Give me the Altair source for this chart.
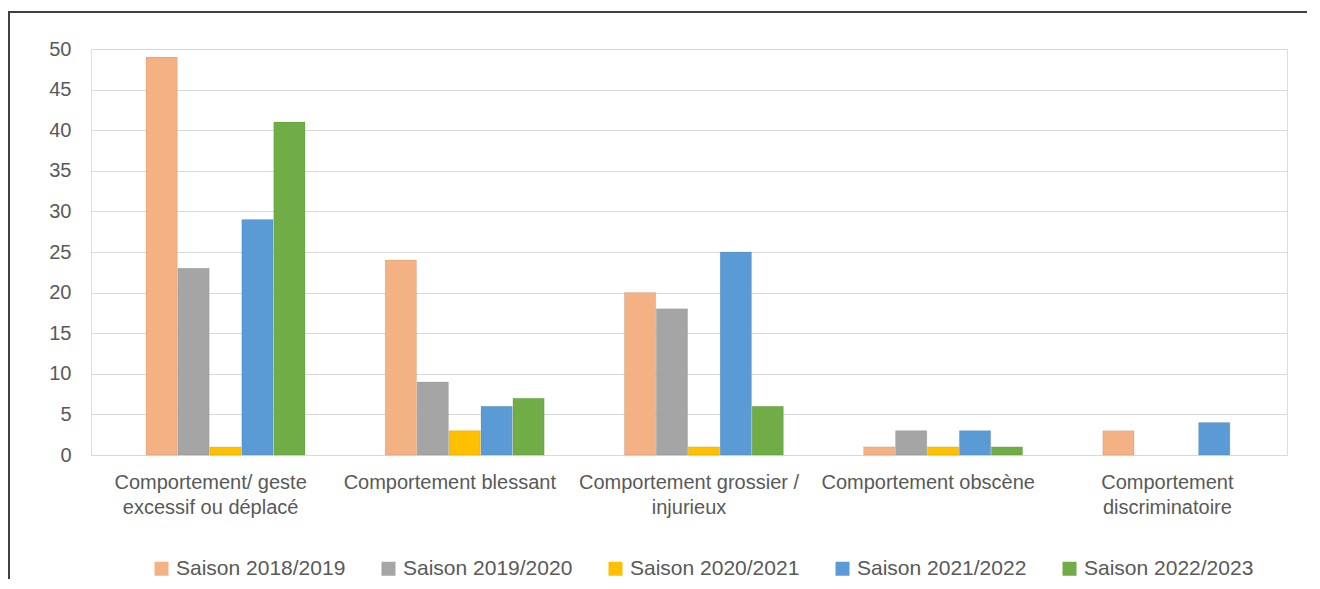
import altair as alt
import pandas as pd

categories = [
    "Comportement/ geste|excessif ou déplacé",
    "Comportement blessant",
    "Comportement grossier /|injurieux",
    "Comportement obscène",
    "Comportement|discriminatoire",
]
series = ["Saison 2018/2019", "Saison 2019/2020", "Saison 2020/2021",
          "Saison 2021/2022", "Saison 2022/2023"]
s2018 = [49, 24, 20, 1, 3]
s2019 = [23, 9, 18, 3, 0]
s2020 = [1, 3, 1, 1, 0]
s2021 = [29, 6, 25, 3, 4]
s2022 = [41, 7, 6, 1, 0]
colors = ["#F4B183", "#A5A5A5", "#FFC000", "#5B9BD5", "#70AD47"]
y_ticks = list(range(0, 51, 5))

rows = []
for s, vals in zip(series, [s2018, s2019, s2020, s2021, s2022]):
    for c, v in zip(categories, vals):
        rows.append({"cat": c, "series": s, "value": v})
df = pd.DataFrame(rows)

FONT = "Liberation Sans"
TXT = "#595959"

bars = alt.Chart(df).transform_filter("datum.value > 0").mark_bar(
    stroke="#00000022", strokeWidth=0.6
).encode(
    x=alt.X("cat:N", sort=categories, title=None,
            scale=alt.Scale(paddingInner=0, paddingOuter=0),
            axis=alt.Axis(labelExpr="split(datum.label, '|')", labelAngle=0,
                          labelFontSize=20, labelColor=TXT, labelFont=FONT,
                          labelLineHeight=25, labelPadding=17, labelBaseline="top",
                          domain=False, ticks=False, labelLimit=300)),
    xOffset=alt.XOffset("series:N", sort=series,
                        scale=alt.Scale(range=[55, 214], paddingInner=0.02, paddingOuter=0)),
    y=alt.Y("value:Q", title=None,
            scale=alt.Scale(domain=[0, 50], nice=False),
            axis=alt.Axis(values=y_ticks, grid=True, gridColor="#D9D9D9", gridWidth=1.2,
                          domain=False, ticks=False, labelPadding=20,
                          labelFontSize=20, labelColor=TXT, labelFont=FONT)),
    color=alt.Color("series:N", sort=series,
                    scale=alt.Scale(domain=series, range=colors),
                    legend=alt.Legend(title=None, orient="none", legendX=60, legendY=509,
                                      direction="horizontal", columns=5,
                                      symbolType="square", symbolSize=196,
                                      symbolStrokeWidth=0,
                                      labelFontSize=21, labelColor=TXT, labelFont=FONT,
                                      labelOffset=4, columnPadding=32, labelLimit=300)),
)

frame_top = alt.Chart(df).mark_rule(color="#404040", strokeWidth=2).encode(
    x=alt.value(-83), x2=alt.value(1240), y=alt.value(-37))
frame_left = alt.Chart(df).mark_rule(color="#404040", strokeWidth=2).encode(
    x=alt.value(-82), y=alt.value(-38), y2=alt.value(560))

chart = alt.layer(bars, frame_top, frame_left).properties(
    width=1196, height=406,
    autosize=alt.AutoSizeParams(type="none"),
    padding={"left": 83, "top": 41, "right": 20, "bottom": 124},
).configure_view(stroke=None).configure(background="white")

chart.save("out.html", embed_options={"renderer": "svg", "actions": False})
